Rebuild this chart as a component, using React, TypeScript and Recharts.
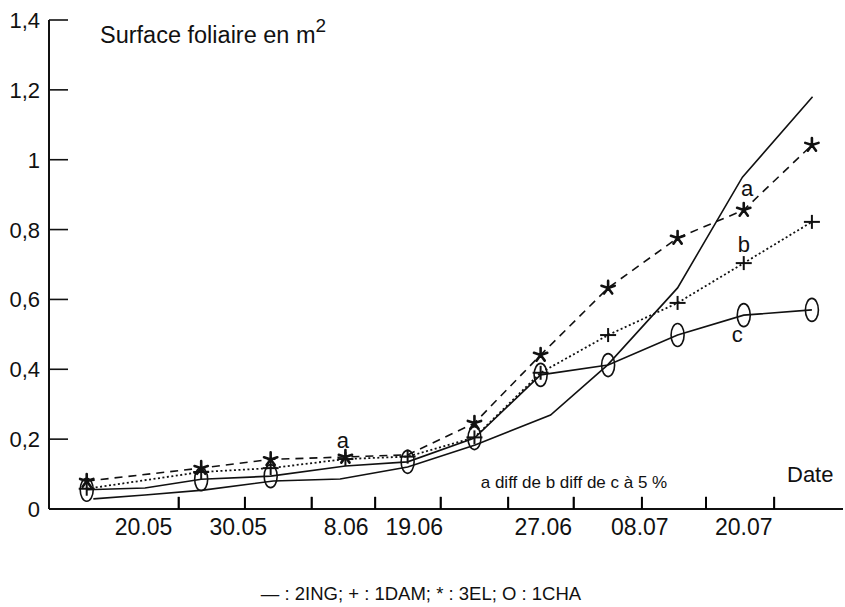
import React from "react";
import { LineChart, Line, XAxis, YAxis, ReferenceDot, ReferenceLine, Scatter } from "recharts";

// x: position on the date axis, in sampling intervals from the y axis
const samplePos = [0.57, 2.3, 3.35, 4.48, 5.42, 6.43, 7.43, 8.45, 9.5, 10.5, 11.53];
const dam1 = [0.058, 0.106, 0.117, 0.143, 0.15, 0.205, 0.39, 0.498, 0.59, 0.704, 0.822];
const el3 = [0.08, 0.117, 0.142, 0.149, 0.155, 0.246, 0.441, 0.633, 0.776, 0.856, 1.042];
const elNoMark = [4];

// 1CHA line has two extra bends where no ellipse is drawn
const chaPos = [0.57, 1.45, 2.3, 3.35, 4.48, 5.42, 6.43, 7.43, 8.45, 9.5, 10.5, 11.53];
const cha1 = [0.055, 0.06, 0.085, 0.094, 0.123, 0.135, 0.203, 0.384, 0.412, 0.498, 0.555, 0.57];
const chaNoMark = [1, 4];

// 2ING: plain solid line, no markers
const ingPos = [0.67, 1.45, 2.33, 3.39, 4.4, 5.42, 6.44, 7.58, 8.44, 9.5, 10.48, 11.54];
const ing2 = [0.029, 0.04, 0.054, 0.08, 0.086, 0.12, 0.183, 0.269, 0.412, 0.633, 0.95, 1.18];

const dateLabels = ["20.05", "30.05", "8.06", "19.06", "27.06", "08.07", "20.07"];
const datePos = [1.43, 2.86, 4.49, 5.52, 7.47, 8.93, 10.5];
const tickMarkPos = [1.96, 2.96, 3.97, 4.93, 5.92, 6.94, 7.93, 8.96, 9.93, 10.96];
const yTicks = [0, 0.2, 0.4, 0.6, 0.8, 1, 1.2, 1.4];

// significance letters
const letterText = ["a", "a", "b", "c"];
const letterX = [4.44, 10.55, 10.5, 10.4];
const letterY = [0.195, 0.916, 0.756, 0.498];

const INK = "#111";

const toPoints = (xs: number[], ys: number[]) => xs.map((x, i) => ({ x, y: ys[i] }));

function DateTick(props: any) {
  const { x, y, payload } = props;
  const i = datePos.indexOf(payload.value);
  return (
    <text x={x} y={y + 26} textAnchor="middle" fontSize={23} fill={INK}>
      {i >= 0 ? dateLabels[i] : ""}
    </text>
  );
}

function ValueTick(props: any) {
  const { x, y, payload } = props;
  const label = String(Number(payload.value.toFixed(1))).replace(".", ",");
  return (
    <g>
      <line x1={x} x2={x + 19} y1={y} y2={y} stroke={INK} strokeWidth={1.6} />
      <text x={x - 9} y={y + 8} textAnchor="end" fontSize={22} fill={INK}>
        {label}
      </text>
    </g>
  );
}

// short upward tick on the date axis
const tickMark = (p: any) => (
  <line x1={p.cx} x2={p.cx} y1={p.cy} y2={p.cy - 12} stroke="#000" strokeWidth={1.8} />
);

const ellipseDot = (skip: number[]) => (p: any) =>
  skip.includes(p.index) ? (
    <g key={p.key} />
  ) : (
    <ellipse key={p.key} cx={p.cx} cy={p.cy} rx={6.5} ry={11.5} fill="none" stroke={INK} strokeWidth={1.6} />
  );

const plusDot = (p: any) => (
  <g key={p.key} stroke={INK} strokeWidth={2}>
    <line x1={p.cx - 8} x2={p.cx + 8} y1={p.cy} y2={p.cy} />
    <line x1={p.cx} x2={p.cx} y1={p.cy - 7} y2={p.cy + 7} />
  </g>
);

const starDot = (skip: number[]) => (p: any) => {
  if (skip.includes(p.index)) return <g key={p.key} />;
  const arms = [-90, -18, 54, 126, 198].map((a) => {
    const r = (a * Math.PI) / 180;
    return `M${p.cx},${p.cy}L${p.cx + 7 * Math.cos(r)},${p.cy + 7 * Math.sin(r)}`;
  });
  return <path key={p.key} d={arms.join("")} stroke={INK} strokeWidth={2.6} strokeLinecap="round" fill="none" />;
};

export default function App() {
  return (
    <div
      style={{
        position: "absolute",
        left: 0,
        top: 0,
        width: 845,
        height: 607,
        background: "#fff",
        fontFamily: '"Liberation Sans", Arial, Helvetica, sans-serif',
      }}
    >
      <LineChart width={845} height={607} margin={{ top: 20, right: 2, bottom: 0, left: 0 }}>
        <XAxis
          type="number"
          dataKey="x"
          domain={[0, 12]}
          ticks={datePos}
          interval={0}
          tick={<DateTick />}
          tickLine={false}
          tickSize={0}
          tickMargin={0}
          height={98}
          stroke={INK}
          strokeWidth={2}
        />
        <YAxis
          type="number"
          domain={[0, 1.4]}
          ticks={yTicks}
          interval={0}
          tick={<ValueTick />}
          tickLine={false}
          tickSize={0}
          tickMargin={0}
          width={49}
          stroke={INK}
          strokeWidth={2}
        />
        <Line
          data={toPoints(ingPos, ing2)}
          dataKey="y"
          type="linear"
          stroke={INK}
          strokeWidth={1.6}
          dot={false}
          activeDot={false}
          isAnimationActive={false}
        />
        <Line
          data={toPoints(chaPos, cha1)}
          dataKey="y"
          type="linear"
          stroke={INK}
          strokeWidth={1.6}
          dot={ellipseDot(chaNoMark)}
          activeDot={false}
          isAnimationActive={false}
        />
        <Line
          data={toPoints(samplePos, dam1)}
          dataKey="y"
          type="linear"
          stroke={INK}
          strokeWidth={1.8}
          strokeDasharray="2 2.5"
          dot={plusDot}
          activeDot={false}
          isAnimationActive={false}
        />
        <Line
          data={toPoints(samplePos, el3)}
          dataKey="y"
          type="linear"
          stroke={INK}
          strokeWidth={1.6}
          strokeDasharray="8 6"
          dot={starDot(elNoMark)}
          activeDot={false}
          isAnimationActive={false}
        />
        {tickMarkPos.map((t) => (
          <ReferenceLine
            key={"m" + t}
            segment={[
              { x: t, y: 0 },
              { x: t, y: 0.035 },
            ]}
            stroke="#000"
            strokeWidth={1.8}
          />
        ))}
        <Scatter
          data={tickMarkPos.map((x) => ({ x, y: 0 }))}
          dataKey="y"
          shape={tickMark}
          isAnimationActive={false}
        />
        {letterText.map((t, i) => (
          <ReferenceDot
            key={i}
            x={letterX[i]}
            y={letterY[i]}
            r={0}
            shape={(p: any) => (
              <text x={p.cx} y={p.cy + 7} textAnchor="middle" fontSize={22} fill={INK}>
                {t}
              </text>
            )}
          />
        ))}
        <text x={100} y={43} fontSize={23.5} fill={INK}>
          Surface foliaire en m
          <tspan dy={-11} fontSize={19}>
            2
          </tspan>
        </text>
        <text x={787} y={482} fontSize={22} fill={INK}>
          Date
        </text>
        <text x={574} y={488} textAnchor="middle" fontSize={17} fill={INK}>
          a diff de b diff de c à 5 %
        </text>
        <text x={421} y={600} textAnchor="middle" fontSize={18.5} fill={INK}>
          — : 2ING; + : 1DAM; * : 3EL; O : 1CHA
        </text>
      </LineChart>
    </div>
  );
}
